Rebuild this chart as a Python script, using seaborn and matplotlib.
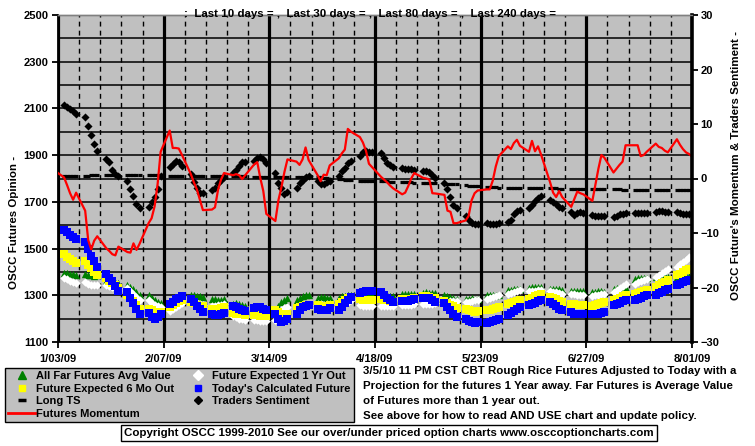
import numpy as np
import pandas as pd
import seaborn as sns
import matplotlib.pyplot as plt
from matplotlib.lines import Line2D

plt.rcParams['font.family'] = ['Liberation Sans', 'DejaVu Sans']
plt.rcParams['font.weight'] = 'bold'

# trading days 1/05/09 .. 7/31/09, one row per week (Mon..Fri)
far_avg = [
    [1395, 1395, 1393, 1390, 1388], [1392, 1388, 1385, 1383, 1385], [1360, 1365, 1362, 1358, 1352],
    [1345, 1335, 1325, 1312, 1300], [1300, 1290, 1280, 1272, 1268], [1262, 1275, 1285, 1295, 1302],
    [1300, 1302, 1298, 1295, 1292], [1285, 1282, 1280, 1280, 1282], [1262, 1265, 1262, 1258, 1255],
    [1250, 1252, 1250, 1248, 1245], [1235, 1255, 1270, 1280, 1290], [1278, 1290, 1298, 1300, 1302],
    [1290, 1292, 1292, 1290, 1290], [1290, 1295, 1298, 1300, 1302], [1300, 1302, 1302, 1303, 1302],
    [1302, 1300, 1300, 1298, 1296], [1305, 1306, 1307, 1306, 1305], [1310, 1312, 1311, 1310, 1308],
    [1300, 1296, 1292, 1288, 1285], [1285, 1286, 1287, 1286, 1285], [1300, 1300, 1301, 1300, 1300],
    [1322, 1323, 1325, 1326, 1325], [1333, 1336, 1337, 1336, 1335], [1325, 1326, 1327, 1325, 1322],
    [1318, 1319, 1320, 1318, 1317], [1315, 1316, 1318, 1317, 1315], [1328, 1330, 1332, 1332, 1330],
    [1370, 1373, 1375, 1376, 1375], [1380, 1382, 1383, 1382, 1380], [1378, 1380, 1382, 1383, 1382],
]
one_yr = [
    [1372, 1368, 1362, 1357, 1352], [1355, 1350, 1345, 1343, 1345], [1344, 1340, 1336, 1332, 1330],
    [1330, 1318, 1305, 1292, 1280], [1278, 1268, 1258, 1252, 1250], [1232, 1240, 1250, 1258, 1265],
    [1278, 1272, 1268, 1262, 1258], [1255, 1255, 1258, 1260, 1262], [1210, 1205, 1200, 1198, 1195],
    [1195, 1193, 1190, 1190, 1188], [1195, 1215, 1235, 1245, 1250], [1248, 1252, 1256, 1258, 1260],
    [1262, 1262, 1260, 1262, 1264], [1245, 1255, 1265, 1272, 1280], [1258, 1256, 1255, 1255, 1256],
    [1256, 1255, 1254, 1254, 1255], [1258, 1258, 1260, 1260, 1262], [1262, 1263, 1264, 1264, 1265],
    [1270, 1272, 1274, 1275, 1275], [1270, 1273, 1276, 1278, 1280], [1285, 1288, 1292, 1296, 1300],
    [1307, 1311, 1314, 1318, 1321], [1318, 1320, 1320, 1321, 1322], [1320, 1316, 1312, 1308, 1305],
    [1305, 1304, 1303, 1302, 1300], [1298, 1300, 1302, 1304, 1306], [1314, 1322, 1332, 1341, 1350],
    [1350, 1355, 1360, 1366, 1371], [1378, 1387, 1396, 1405, 1414], [1421, 1432, 1442, 1453, 1464],
]
six_mo = [
    [1475, 1465, 1455, 1447, 1440], [1445, 1430, 1415, 1400, 1388], [1372, 1362, 1352, 1342, 1332],
    [1300, 1290, 1275, 1258, 1242], [1240, 1235, 1230, 1230, 1228], [1250, 1258, 1266, 1274, 1280],
    [1270, 1265, 1260, 1255, 1252], [1240, 1240, 1242, 1245, 1248], [1225, 1222, 1220, 1218, 1215],
    [1215, 1214, 1213, 1211, 1210], [1235, 1230, 1222, 1216, 1218], [1245, 1250, 1255, 1258, 1260],
    [1258, 1256, 1255, 1256, 1258], [1262, 1272, 1280, 1288, 1294], [1282, 1280, 1278, 1278, 1280],
    [1282, 1280, 1278, 1275, 1270], [1284, 1285, 1286, 1286, 1288], [1295, 1295, 1292, 1290, 1290],
    [1275, 1268, 1260, 1252, 1245], [1240, 1236, 1232, 1230, 1232], [1235, 1239, 1243, 1247, 1250],
    [1264, 1268, 1272, 1275, 1278], [1285, 1290, 1295, 1300, 1304], [1293, 1288, 1282, 1276, 1271],
    [1264, 1262, 1260, 1258, 1257], [1252, 1258, 1262, 1266, 1270], [1278, 1284, 1290, 1295, 1300],
    [1307, 1311, 1316, 1320, 1324], [1335, 1343, 1351, 1359, 1367], [1385, 1392, 1400, 1407, 1414],
]
today = [
    [1580, 1570, 1560, 1550, 1540], [1530, 1500, 1470, 1445, 1420], [1390, 1375, 1360, 1340, 1318],
    [1312, 1290, 1265, 1240, 1218], [1225, 1205, 1198, 1205, 1220], [1262, 1272, 1282, 1290, 1296],
    [1282, 1270, 1255, 1240, 1230], [1220, 1215, 1215, 1220, 1226], [1252, 1248, 1243, 1238, 1232],
    [1245, 1250, 1248, 1242, 1235], [1222, 1200, 1185, 1188, 1200], [1222, 1238, 1248, 1255, 1260],
    [1242, 1238, 1235, 1238, 1245], [1235, 1250, 1265, 1280, 1292], [1310, 1315, 1318, 1320, 1318],
    [1312, 1300, 1290, 1280, 1270], [1275, 1275, 1275, 1278, 1282], [1290, 1290, 1288, 1280, 1272],
    [1265, 1250, 1235, 1220, 1205], [1200, 1190, 1185, 1183, 1185], [1182, 1186, 1190, 1195, 1200],
    [1214, 1224, 1234, 1243, 1250], [1257, 1263, 1268, 1274, 1278], [1271, 1262, 1252, 1243, 1235],
    [1228, 1222, 1220, 1220, 1218], [1218, 1220, 1222, 1225, 1228], [1257, 1262, 1268, 1274, 1278],
    [1278, 1284, 1290, 1295, 1300], [1300, 1308, 1315, 1322, 1328], [1343, 1349, 1355, 1361, 1367],
]
long_ts = [
    [0.4, 0.4, 0.4, 0.5, 0.5], [0.5, 0.5, 0.6, 0.6, 0.6], [0.6, 0.6, 0.6, 0.6, 0.6],
    [0.6, 0.6, 0.6, 0.6, 0.6], [0.6, 0.6, 0.6, 0.6, 0.6], [0.5, 0.5, 0.5, 0.5, 0.5],
    [0.5, 0.5, 0.5, 0.5, 0.5], [0.5, 0.5, 0.5, 0.4, 0.4], [0.4, 0.4, 0.4, 0.4, 0.4],
    [0.3, 0.3, 0.3, 0.3, 0.3], [0.3, 0.3, 0.3, 0.3, 0.3], [0.3, 0.3, 0.3, 0.2, 0.2],
    [0.2, 0.2, 0.1, 0.1, 0.0], [-0.1, -0.1, -0.2, -0.2, -0.3], [-0.4, -0.4, -0.4, -0.5, -0.5],
    [-0.5, -0.5, -0.5, -0.6, -0.6], [-0.6, -0.7, -0.7, -0.7, -0.8], [-0.8, -0.8, -0.8, -0.9, -0.9],
    [-0.9, -1.0, -1.0, -1.1, -1.1], [-1.2, -1.3, -1.3, -1.4, -1.4], [-1.5, -1.5, -1.6, -1.6, -1.7],
    [-1.7, -1.7, -1.7, -1.7, -1.7], [-1.7, -1.7, -1.8, -1.8, -1.8], [-1.8, -1.8, -1.8, -1.9, -1.9],
    [-1.9, -1.9, -1.9, -1.9, -1.9], [-1.9, -1.9, -2.0, -2.0, -2.0], [-2.0, -2.0, -2.0, -2.1, -2.1],
    [-2.1, -2.1, -2.1, -2.2, -2.2], [-2.2, -2.2, -2.2, -2.2, -2.2], [-2.1, -2.1, -2.1, -2.1, -2.1],
]
sentiment = [
    [13.4, 13.1, 12.7, 12.3, 11.9], [11.3, 9.6, 8.0, 6.4, 5.1], [3.6, 3.0, 1.6, 0.8, 0.4],
    [-0.5, -2.0, -3.3, -4.7, -5.5], [-5.2, -4.4, -3.4, -1.9, 0.4], [2.2, 2.7, 3.2, 3.0, 2.3],
    [0.8, -0.6, -1.8, -2.7, -2.7], [-2.2, -1.7, -0.9, -0.2, 0.2], [1.0, 1.6, 2.3, 3.0, 3.1],
    [3.3, 3.8, 4.0, 3.6, 2.8], [1.0, -0.8, -1.8, -2.8, -2.5], [-1.8, -0.9, -0.2, 0.3, 0.4],
    [-0.5, -1.0, -1.0, -0.6, -0.5], [0.5, 1.4, 2.0, 2.8, 3.2], [4.2, 4.8, 5.0, 4.9, 4.9],
    [4.7, 3.8, 2.8, 2.4, 2.2], [1.9, 1.7, 1.7, 1.7, 1.6], [1.3, 1.3, 1.2, 0.6, 0.1],
    [-0.8, -2.0, -3.4, -4.9, -5.4], [-6.9, -7.6, -8.2, -8.4, -8.3], [-8.2, -8.3, -8.4, -8.3, -8.2],
    [-7.9, -7.6, -6.5, -5.9, -5.8], [-5.5, -4.8, -4.2, -3.6, -3.3], [-3.9, -4.4, -4.7, -5.2, -5.4],
    [-6.1, -6.7, -6.3, -6.1, -6.3], [-6.7, -6.8, -6.8, -6.8, -6.8], [-7.0, -6.8, -6.6, -6.5, -6.4],
    [-6.4, -6.4, -6.4, -6.4, -6.4], [-6.1, -6.0, -6.0, -6.1, -6.1], [-6.1, -6.3, -6.5, -6.6, -6.6],
]
momentum = [
    [0.2, -1.2, -2.7, -3.9, -2.6], [-5.9, -11.3, -13.0, -11.4, -10.6], [-12.8, -13.3, -13.9, -14.1, -12.5],
    [-13.5, -13.6, -11.9, -13.1, -12.0], [-8.2, -7.3, -5.1, -1.0, 4.9], [8.8, 5.6, 5.6, 5.5, 4.4],
    [0.8, -0.7, -2.0, -3.9, -5.8], [-5.7, -5.3, -2.1, -0.2, 1.0], [0.6, 0.8, 0.6, -0.1, 0.6],
    [2.6, 3.0, 0.1, -2.3, -6.5], [-7.8, -4.0, -1.6, 1.2, 3.5], [3.1, 2.5, 3.5, 5.7, 3.4],
    [0.6, -0.5, 0.7, 0.6, 2.4], [3.7, 4.6, 5.3, 9.1, 8.6], [7.6, 6.6, 5.1, 2.7, 2.1],
    [0.3, -0.2, -0.7, -1.3, -1.8], [-2.9, -2.6, -1.4, 0.0, 1.0], [0.1, 0.0, -0.2, -2.7, -2.75],
    [-3.0, -5.9, -6.1, -8.2, -8.2], [-7.7, -6.9, -4.0, -2.7, -2.2], [-2.0, -2.0, -0.4, 2.2, 4.1],
    [5.9, 5.4, 6.5, 7.1, 6.0], [4.9, 6.9, 5.0, 5.9, 4.4], [-0.7, -2.6, -3.4, -2.3, -3.4],
    [-5.2, -3.8, -2.4, -2.7, -2.9], [-4.1, -1.1, 1.8, 4.3, 3.8], [1.1, 1.8, 2.5, 3.1, 6.1],
    [6.1, 6.1, 4.1, 4.3, 4.9], [6.4, 5.8, 5.6, 5.1, 4.8], [7.2, 6.2, 5.4, 4.8, 4.5],
]
momentum_edges = [1.4, 3.1]   # 1/02/09 and 8/03/09, outside the frame

tick_dates = ['2009-01-03', '2009-02-07', '2009-03-14', '2009-04-18', '2009-05-23', '2009-06-27', '2009-08-01']
tick_labels = ['1/03/09', '2/07/09', '3/14/09', '4/18/09', '5/23/09', '6/27/09', '8/01/09']

title = ':  Last 10 days = ,  Last 30 days = ,  Last 80 days = ,  Last 240 days ='
note_lines = [
    '3/5/10 11 PM CST CBT Rough Rice Futures Adjusted to Today with a',
    'Projection for the futures 1 Year away. Far Futures is Average Value',
    'of Futures more than 1 year out.',
    'See above for how to read AND USE chart and update policy.',
]
copyright_text = 'Copyright OSCC 1999-2010 See our over/under priced option charts www.osccoptioncharts.com'


def flat(rows, edge=(np.nan, np.nan)):
    return [edge[0]] + [v for r in rows for v in r] + [edge[1]]


days = pd.bdate_range('2009-01-02', '2009-08-03')
df = pd.DataFrame({
    'date': days,
    'far_avg': flat(far_avg),
    'one_yr': flat(one_yr),
    'six_mo': flat(six_mo),
    'today': flat(today),
    'long_ts': flat(long_ts),
    'sentiment': flat(sentiment),
    'momentum': flat(momentum, momentum_edges),
})

GRAY = '#C0C0C0'
FS = 8.25
fig = plt.figure(figsize=(7.55, 4.46), dpi=100)
ax = fig.add_axes([58 / 755, 104 / 446, 634 / 755, 327 / 446])
ax.set_facecolor(GRAY)

sns.scatterplot(data=df, x='date', y='far_avg', marker='^', s=28, color='#008000', linewidth=0, legend=False, ax=ax, zorder=3)
sns.scatterplot(data=df, x='date', y='one_yr', marker='D', s=18, color='white', linewidth=0, legend=False, ax=ax, zorder=3)
sns.scatterplot(data=df, x='date', y='six_mo', marker='s', s=28, color='#FFFF00', linewidth=0, legend=False, ax=ax, zorder=3)
sns.scatterplot(data=df, x='date', y='today', marker='s', s=32, color='#0000FF', linewidth=0, legend=False, ax=ax, zorder=3)

ax2 = ax.twinx()
sns.scatterplot(data=df, x='date', y='long_ts', marker='_', s=11, color='black', edgecolor='black', linewidth=2.3, legend=False, ax=ax2)
sns.scatterplot(data=df, x='date', y='sentiment', marker='D', s=17, color='black', linewidth=0, legend=False, ax=ax2)
sns.lineplot(data=df, x='date', y='momentum', color='#FF0000', linewidth=1.6, legend=False, ax=ax2)

ax.set_xlim(pd.Timestamp(tick_dates[0]), pd.Timestamp(tick_dates[-1]))
ax.set_ylim(1100, 2500)
ax2.set_ylim(-30, 30)

ax.set_xticks(pd.to_datetime(tick_dates))
ax.set_xticklabels(tick_labels)
ax.set_xticks(pd.date_range(tick_dates[0], tick_dates[-1], freq='7D'), minor=True)
ax.set_yticks(np.arange(1100, 2501, 200))
ax.set_yticks(np.arange(1100, 2501, 100), minor=True)
ax2.set_yticks(np.arange(-30, 31, 10))

ax.set_axisbelow(True)
ax.yaxis.grid(True, which='both', color='black', linewidth=1.1)
ax.xaxis.grid(True, which='minor', color='black', linewidth=1.0, linestyle=(0, (3.5, 3)))
ax.xaxis.grid(True, which='major', color='black', linewidth=2.3)

ax.set_xlabel('')
ax.set_ylabel('')
ax2.set_xlabel('')
ax2.set_ylabel('')
ax.tick_params(which='minor', length=0)
ax.tick_params(which='major', length=4, width=1.3, labelsize=8, colors='black')
ax.tick_params(axis='y', pad=3)
ax.tick_params(axis='x', pad=5)
ax2.tick_params(which='major', length=4, width=1.3, labelsize=8, pad=2)
for lab in ax.get_xticklabels() + ax.get_yticklabels() + ax2.get_yticklabels():
    lab.set_fontweight('bold')

for a in (ax, ax2):
    a.spines['top'].set_color('#808080')
    a.spines['top'].set_linewidth(1.0)
ax.spines['right'].set_visible(False)
ax2.spines['left'].set_visible(False)
ax2.spines['bottom'].set_visible(False)
ax.spines['left'].set_linewidth(1.3)
ax.spines['bottom'].set_linewidth(1.3)
ax2.spines['right'].set_linewidth(2.6)

fig.text(370 / 755, 1 - 14 / 446, title, ha='center', va='center', fontsize=FS, fontweight='bold')
fig.text(14 / 755, 1 - 222 / 446, 'OSCC Futures Opinion -', rotation=90, ha='center', va='center',
         fontsize=FS, fontweight='bold')
fig.text(736 / 755, 1 - 165 / 446, "OSCC Future's Momentum & Traders Sentiment -", rotation=90,
         ha='center', va='center', fontsize=FS, fontweight='bold')

handles = [
    Line2D([], [], ls='', marker='^', ms=6, color='#008000'),
    Line2D([], [], ls='', marker='s', ms=5, color='#FFFF00'),
    Line2D([], [], ls='', marker='_', ms=6, mew=2.5, color='black'),
    Line2D([], [], ls='-', lw=2, color='#FF0000'),
    Line2D([], [], ls='', marker='D', ms=5, color='white'),
    Line2D([], [], ls='', marker='s', ms=5, color='#0000FF'),
    Line2D([], [], ls='', marker='D', ms=4, color='black'),
]
labels = ['All Far Futures Avg Value', 'Future Expected 6 Mo Out', 'Long TS', 'Futures Momentum',
          'Future Expected 1 Yr Out', "Today's Calculated Future", 'Traders Sentiment']
leg = fig.legend(handles, labels, loc='upper left', bbox_to_anchor=(5 / 755, 1 - 368 / 446), ncol=2,
                 fontsize=8, frameon=True, fancybox=False, framealpha=1, facecolor=GRAY, edgecolor='black',
                 borderpad=0.3, labelspacing=0.22, handlelength=2.4, handletextpad=0.1, columnspacing=0.9,
                 borderaxespad=0)
leg.get_frame().set_linewidth(1.0)
for t in leg.get_texts():
    t.set_fontweight('bold')

for i, line in enumerate(note_lines):
    fig.text(363 / 755, 1 - (371 + 15 * i) / 446, line, ha='left', va='center', fontsize=FS, fontweight='bold')

fig.text(124 / 755, 1 - 433 / 446, copyright_text, ha='left', va='center', fontsize=FS, fontweight='bold',
         bbox=dict(boxstyle='square,pad=0.3', facecolor='white', edgecolor='black', linewidth=1.0))

fig.savefig('out.png', dpi=100)
